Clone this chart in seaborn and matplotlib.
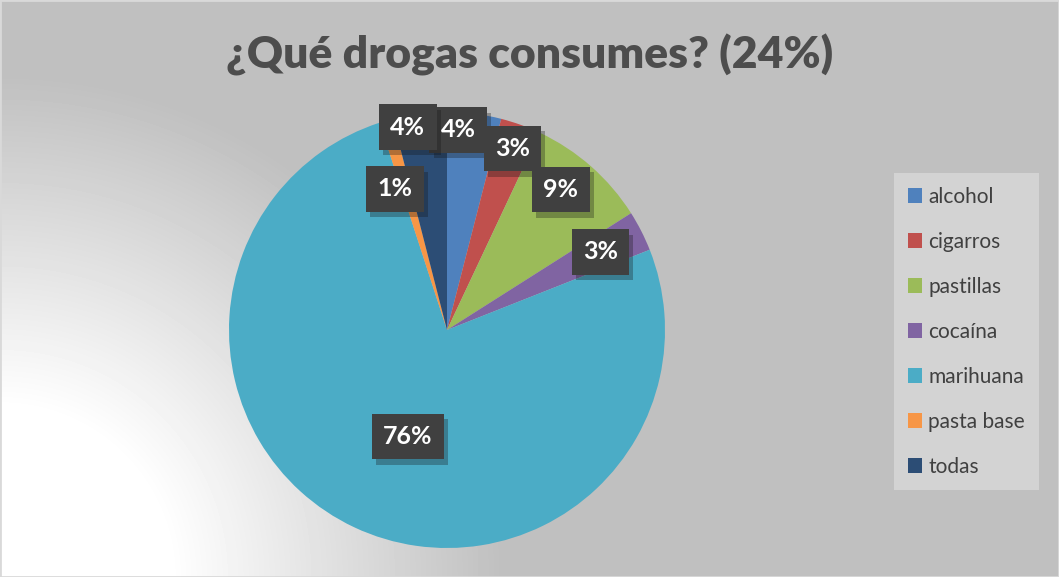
import numpy as np
import matplotlib
matplotlib.use('Agg')
import matplotlib.pyplot as plt
import matplotlib.patheffects as pe
from matplotlib.patches import Rectangle
import seaborn as sns

drogas = ['alcohol', 'cigarros', 'pastillas', 'cocaína', 'marihuana', 'pasta base', 'todas']
porcentajes = [4, 3, 9, 3, 76, 1, 4]
colores = ['#4F81BD', '#C0504D', '#9BBB59', '#8064A2', '#4BACC6', '#F79646', '#2C4D75']
titulo = '¿Qué drogas consumes? (24%)'

# label placement: distance as a fraction of the radius, and a small
# clockwise nudge (degrees) off the slice middle so the boxes don't collide
label_dist = [0.92, 0.885, 0.83, 0.79, 0.52, 0.69, 0.948]
label_shift = [-4, 0, -2.4, 0, -5, -4, -3.7]

sns.set_theme(style='white')
plt.rcParams['font.family'] = ['Lato', 'DejaVu Sans']

W, H = 1059, 577
fig = plt.figure(figsize=(W / 100, H / 100), dpi=100)

# background: radial fade, white in the lower left corner
bg = fig.add_axes([0, 0, 1, 1], zorder=-10)
yy, xx = np.mgrid[0:H, 0:W]
r = np.hypot(xx, H - yy)
t = np.clip((r - 170) / 330, 0, 1)
shade = 1 - t * (1 - 0.753)
bg.imshow(shade, cmap='gray', vmin=0, vmax=1, aspect='auto',
          extent=[0, 1, 0, 1], interpolation='bilinear')
bg.add_patch(Rectangle((0, 0), 1, 1, transform=bg.transAxes, fill=False,
                       ec='#d9d9d9', lw=2))
bg.set_xlim(0, 1)
bg.set_ylim(0, 1)
bg.axis('off')

# pie
cx, cy, rad = 447, 330, 218
ax = fig.add_axes([(cx - rad) / W, (H - cy - rad) / H, 2 * rad / W, 2 * rad / H])
wedges, _ = ax.pie(porcentajes, colors=colores, startangle=90, counterclock=False,
                   radius=1, wedgeprops=dict(linewidth=0))
ax.set_xlim(-1, 1)
ax.set_ylim(-1, 1)

total = sum(porcentajes)
cum = np.cumsum(porcentajes)
for p, c, d, s in zip(porcentajes, cum, label_dist, label_shift):
    cw = (c - p / 2) / total * 360 + s
    ang = np.deg2rad(90 - cw)
    txt = ax.text(d * np.cos(ang), d * np.sin(ang), f'{p}%', ha='center', va='center',
                  color='white', fontsize=18, fontweight='bold', zorder=5,
                  bbox=dict(boxstyle='square,pad=0.45', fc='#404040', ec='none', lw=0))
    txt.get_bbox_patch().set_path_effects(
        [pe.SimplePatchShadow(offset=(3, -4), alpha=0.3), pe.Normal()])

# title
fig.text(0.5, 1 - 55 / H, titulo, ha='center', va='center', fontsize=32,
         fontweight='heavy', color='#4d4d4d')

# legend
leg = fig.legend(wedges, drogas, loc='upper left', bbox_to_anchor=(894 / W, 1 - 173 / H),
                 frameon=True, fancybox=False, fontsize=15, labelspacing=1.2,
                 handlelength=0.7, handleheight=0.7, handletextpad=0.3,
                 borderpad=0.65, borderaxespad=0, labelcolor='#404040')
frame = leg.get_frame()
frame.set_facecolor('#d3d3d3')
frame.set_edgecolor('none')
frame.set_alpha(1)

fig.savefig('out.png', dpi=100)
